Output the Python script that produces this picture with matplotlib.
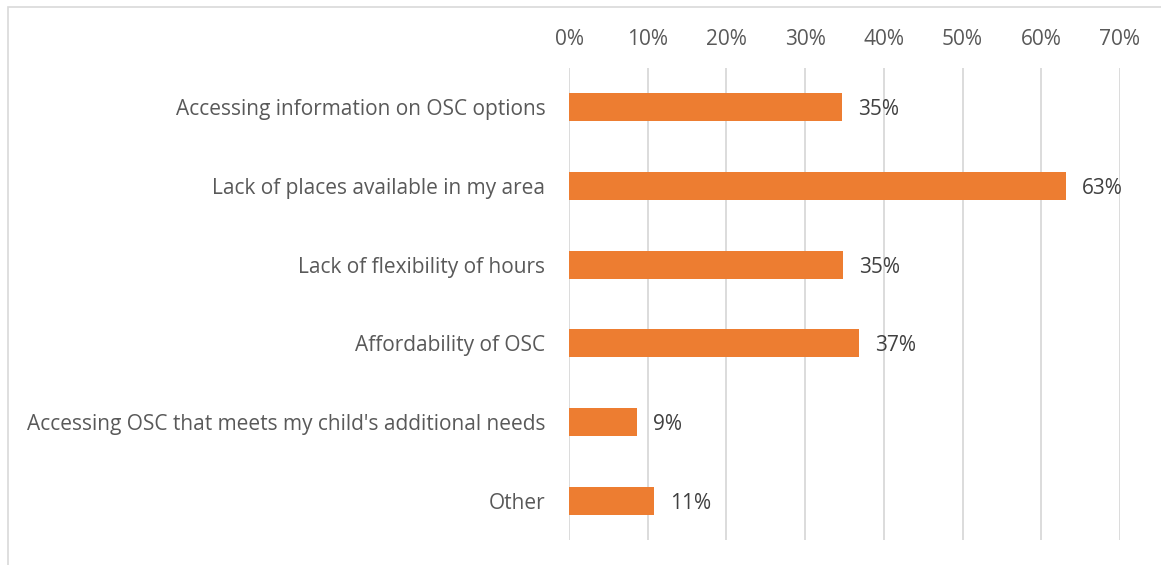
import matplotlib.pyplot as plt
from matplotlib.patches import Rectangle
from matplotlib.ticker import PercentFormatter

categories = [
    "Accessing information on OSC options",
    "Lack of places available in my area",
    "Lack of flexibility of hours",
    "Affordability of OSC",
    "Accessing OSC that meets my child's additional needs",
    "Other",
]
values = [0.347, 0.632, 0.348, 0.369, 0.087, 0.108]
xticks = [0, 0.1, 0.2, 0.3, 0.4, 0.5, 0.6, 0.7]

plt.rcParams['font.family'] = ['Open Sans', 'DejaVu Sans']

fig = plt.figure(figsize=(11.61, 5.65), dpi=100)
ax = fig.add_axes([569 / 1161, 1 - 540 / 565, 551 / 1161, 472 / 565])

ypos = list(range(len(categories)))
ax.barh(ypos, values, height=0.36, color="#ED7D31", zorder=3)
for y, v in zip(ypos, values):
    ax.text(v + 0.02, y, f"{v:.0%}", va="center_baseline", ha="left",
            fontsize=15, color="#404040")

ax.set_ylim(len(categories) - 0.5, -0.5)
ax.set_xlim(0, 0.7)
ax.set_yticks(ypos)
ax.set_yticklabels(categories, fontsize=15, color="#595959")
ax.set_xticks(xticks)
ax.xaxis.set_major_formatter(PercentFormatter(1.0, decimals=0))
ax.xaxis.tick_top()
ax.tick_params(axis="x", labelsize=15, labelcolor="#595959", length=0, pad=13)
ax.tick_params(axis="y", length=0, pad=17)
ax.grid(axis="x", color="#d9d9d9", linewidth=1.3, zorder=0)
for s in ax.spines.values():
    s.set_visible(False)

fig.patches.append(Rectangle((8 / 1161, -0.1), 1.2, 1 - 7 / 565 + 0.1,
                             transform=fig.transFigure, fill=False,
                             edgecolor="#d9d9d9", linewidth=1.2))

fig.savefig("out.png", dpi=100)
